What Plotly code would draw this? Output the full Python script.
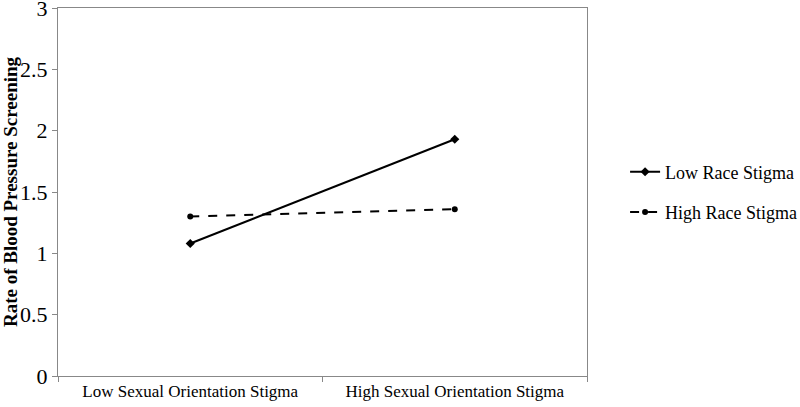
import plotly.graph_objects as go

categories = ["Low Sexual Orientation Stigma", "High Sexual Orientation Stigma"]
low_race = [1.08, 1.93]
high_race = [1.30, 1.36]
y_ticks = [0, 0.5, 1, 1.5, 2, 2.5, 3]
y_tick_labels = ["0", "0.5", "1", "1.5", "2", "2.5", "3"]

fig = go.Figure()
fig.add_trace(go.Scatter(
    x=categories, y=low_race, name="Low Race Stigma", mode="lines+markers",
    line=dict(color="black", width=2, dash="solid"),
    marker=dict(symbol="diamond", size=7, color="black"),
    legendgroup="a"))
fig.add_trace(go.Scatter(
    x=categories, y=high_race, name="High Race Stigma", mode="lines+markers",
    line=dict(color="black", width=2, dash="dash"),
    marker=dict(symbol="circle", size=6, color="black"),
    legendgroup="b"))

font = "Liberation Serif, Times New Roman, serif"
fig.update_layout(
    width=800, height=407,
    margin=dict(l=58, r=213, t=8, b=31, autoexpand=False),
    paper_bgcolor="white", plot_bgcolor="white",
    font=dict(family=font, size=17, color="black"),
    showlegend=True,
    legend=dict(x=1.072, y=0.5, xanchor="left", yanchor="middle",
                tracegroupgap=14, font=dict(size=18, family=font),
                bgcolor="rgba(0,0,0,0)"),
)
fig.update_xaxes(
    type="category", range=[-0.5, 1.5], automargin=False,
    showline=True, linecolor="#888", linewidth=1, mirror=True,
    showgrid=False, ticks="outside", ticklen=5, tickcolor="#888",
    tickson="boundaries", tickfont=dict(size=17, family=font))
fig.update_yaxes(
    range=[0, 3], tickvals=y_ticks, ticktext=y_tick_labels, automargin=False,
    ticklabeloverflow="allow",
    showline=True, linecolor="#888", linewidth=1, mirror=True,
    showgrid=False, zeroline=False, ticks="outside", ticklen=5, tickcolor="#888",
    tickfont=dict(size=22, family=font),
    title=dict(text="<b>Rate of Blood Pressure Screening</b>",
               font=dict(size=19, family=font), standoff=4))

fig.write_html("out.html", config={"displayModeBar": False},
               post_script="document.body.style.margin='0px';document.body.style.overflow='hidden';")
